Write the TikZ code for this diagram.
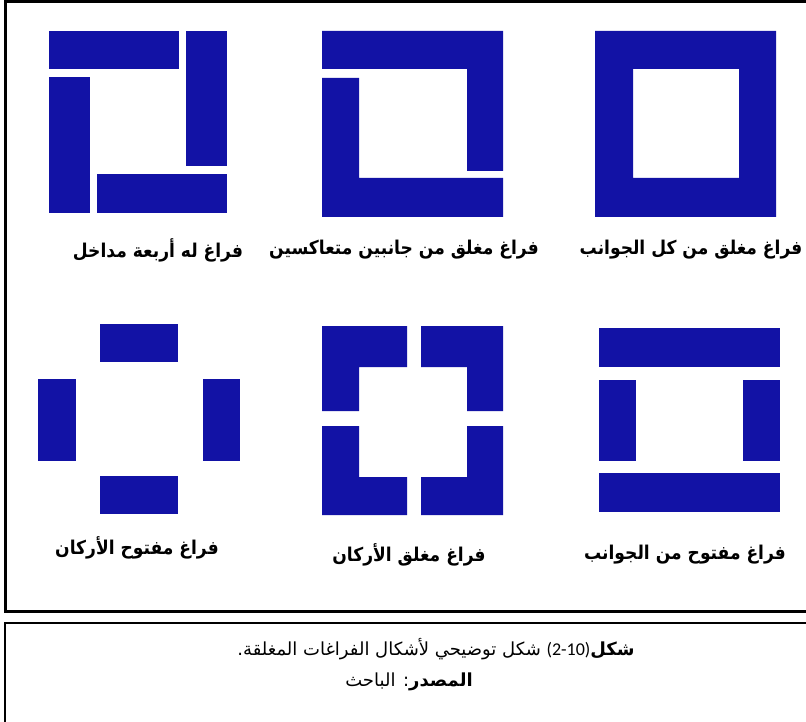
\documentclass[tikz,border=0pt]{standalone}
\usepackage{fontspec}
\newfontfamily\arabicfont[Script=Arabic]{DejaVu Sans}
\newfontfamily\arabicnarrow[Script=Arabic, FakeStretch=0.9]{DejaVu Sans}
\newfontfamily\digitfont{Carlito}
\TeXXeTstate=1
\definecolor{spaceblue}{RGB}{18,18,165}

\begin{document}
\begin{tikzpicture}[
  x=1pt, y=-1pt,
  wall/.style={fill=spaceblue, draw=none},
  lbl/.style={font={\arabicnarrow\bfseries\fontsize{19}{22}\selectfont}, inner sep=0pt},
  captext/.style={font={\arabicfont\fontsize{18}{21}\selectfont}, inner sep=0pt},
  outerframe/.style={draw=black, line width=3pt},
  capframe/.style={draw=black, line width=2pt}
]
\fill[white] (0,0) rectangle (806,722);
\useasboundingbox (0,0) rectangle (806,722);
\draw[outerframe] (5,2) rectangle (812,611);
\draw[capframe] (5,623) rectangle (812,740);

% top row
\fill[wall] (49,31) rectangle (179,69);
\fill[wall] (186,31) rectangle (227,166);
\fill[wall] (49,77) rectangle (90,213);
\fill[wall] (97,174) rectangle (227,213);

\fill[wall] (322,31) -- (503,31) -- (503,171) -- (467,171) -- (467,69) -- (322,69) -- cycle;
\fill[wall] (322,78) -- (359,78) -- (359,178) -- (503,178) -- (503,217) -- (322,217) -- cycle;

\fill[wall, even odd rule] (595,31) rectangle (776,217) (633,69) rectangle (739,178);

\node[lbl] (lblfour) at (158,250) {\beginR فراغ له أربعة مداخل\endR};
\node[lbl] (lbltwo) at (404,250) {\beginR فراغ مغلق من جانبين متعاكسين\endR};
\node[lbl] (lblall) at (691,250) {\beginR فراغ مغلق من كل الجوانب\endR};

% bottom row
\fill[wall] (100,324) rectangle (178,362);
\fill[wall] (38,379) rectangle (76,461);
\fill[wall] (203,379) rectangle (240,461);
\fill[wall] (100,476) rectangle (178,514);

\fill[wall] (322,326) -- (407,326) -- (407,367) -- (359,367) -- (359,411) -- (322,411) -- cycle;
\fill[wall] (421,326) -- (503,326) -- (503,411) -- (467,411) -- (467,367) -- (421,367) -- cycle;
\fill[wall] (322,426) -- (359,426) -- (359,477) -- (407,477) -- (407,515) -- (322,515) -- cycle;
\fill[wall] (467,426) -- (503,426) -- (503,515) -- (421,515) -- (421,477) -- (467,477) -- cycle;

\fill[wall] (599,328) rectangle (780,367);
\fill[wall] (599,380) rectangle (636,461);
\fill[wall] (743,380) rectangle (780,461);
\fill[wall] (599,473) rectangle (780,512);

\node[lbl] (lblcorner) at (137,548) {\beginR فراغ مفتوح الأركان\endR};
\node[lbl] (lblclosed) at (409,555) {\beginR فراغ مغلق الأركان\endR};
\node[lbl] (lblsides) at (685,555) {\beginR فراغ مفتوح من الجوانب\endR};

% caption
\node[captext] (capfig) at (436,649) {\beginR\textbf{شكل}\beginL{\digitfont(2-10)}\endL{} شكل توضيحي لأشكال الفراغات المغلقة.\endR};
\node[captext] (capsrc) at (409,682) {\beginR\textbf{المصدر}: الباحث\endR};
\end{tikzpicture}
\end{document}
